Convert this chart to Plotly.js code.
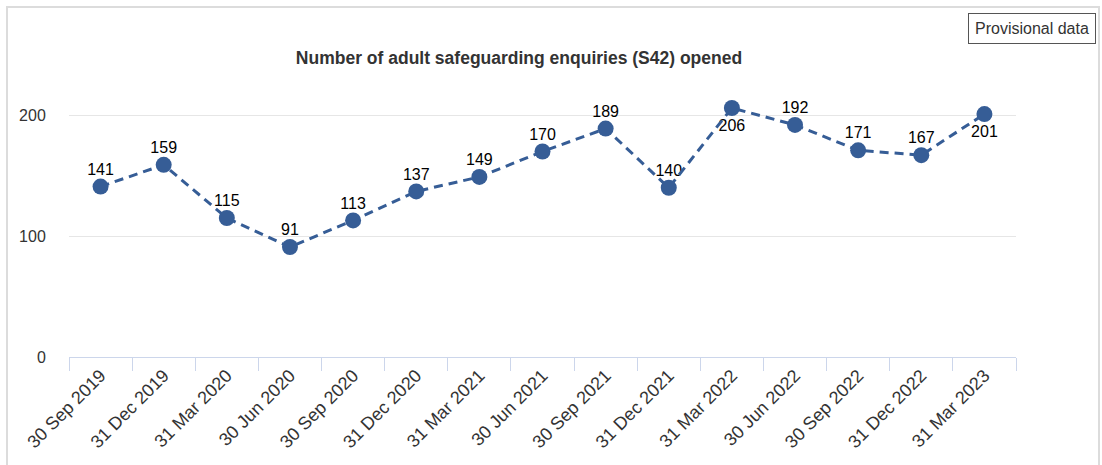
<!DOCTYPE html>
<html><head><meta charset="utf-8">
<script src="https://cdn.plot.ly/plotly-3.0.1.min.js"></script>
<style>
html,body{margin:0;padding:0;background:#fff;}
#chart{width:1102px;height:465px;}
#frame{position:absolute;left:6px;top:6px;width:1094px;height:470px;border:2px solid #dcdcdc;pointer-events:none;box-sizing:border-box;}
</style></head>
<body>
<div id="chart"></div>
<div id="frame"></div>
<script>
const categories = ["30 Sep 2019","31 Dec 2019","31 Mar 2020","30 Jun 2020","30 Sep 2020","31 Dec 2020","31 Mar 2021","30 Jun 2021","30 Sep 2021","31 Dec 2021","31 Mar 2022","30 Jun 2022","30 Sep 2022","31 Dec 2022","31 Mar 2023"];
const enquiries = [141,159,115,91,113,137,149,170,189,140,206,192,171,167,201];
const labelPositions = ["top center","top center","top center","top center","top center","top center","top center","top center","top center","top center","bottom center","top center","top center","top center","bottom center"];
const yTicks = [0,100,200];

const labelTrace = {
  x: categories, y: enquiries, type: 'scatter', mode: 'markers+text',
  text: enquiries.map(String), textposition: labelPositions,
  textfont: {family: 'Liberation Sans, Arial, sans-serif', size: 16, color: '#000'},
  marker: {color: '#ffffff', opacity: 0, line: {width: 0}, size: labelPositions.map(p => p.startsWith('top') ? 11 : 16)},
  cliponaxis: false, hoverinfo: 'skip'
};
const lineTrace = {
  x: categories, y: enquiries, type: 'scatter', mode: 'lines+markers',
  line: {color: '#365d96', width: 3, dash: '9px,6px'},
  marker: {color: '#365d96', size: 16, line: {width: 0}},
  cliponaxis: false, hoverinfo: 'x+y'
};
const layout = {
  width: 1102, height: 465,
  margin: {l: 69, r: 86, t: 79, b: 108},
  paper_bgcolor: '#fff', plot_bgcolor: '#fff',
  font: {family: 'Liberation Sans, Arial, sans-serif', color: '#333'},
  showlegend: false,
  title: {text: '<b>Number of adult safeguarding enquiries (S42) opened</b>', font: {size: 17.5, color: '#333'},
          x: 519/1102, xref: 'container', xanchor: 'center', y: 1 - 58/465, yref: 'container', yanchor: 'middle'},
  xaxis: {type: 'category', tickangle: -45, tickson: 'boundaries', ticks: 'outside', ticklen: 13, tickcolor: '#ccd6eb',
          showline: true, linecolor: '#ccd6eb', linewidth: 1, showgrid: false, zeroline: false,
          tickfont: {size: 18, color: '#333'}, range: [-0.5, categories.length - 0.5]},
  yaxis: {range: [0, 230], tickvals: yTicks, ticktext: yTicks.map(String), showgrid: true, gridcolor: '#e6e6e6',
          zeroline: false, ticks: 'outside', ticklen: 19, tickcolor: 'rgba(0,0,0,0)', showline: false,
          tickfont: {size: 16, color: '#333'}},
  annotations: [{text: 'Provisional data', xref: 'paper', yref: 'paper', x: (1032-69)/947, y: (357-28)/278,
    xanchor: 'center', yanchor: 'middle', showarrow: false, font: {size: 16, color: '#333'},
    bordercolor: '#555', borderwidth: 1, borderpad: 6, bgcolor: '#fff'}]
};
Plotly.newPlot('chart', [labelTrace, lineTrace], layout, {displayModeBar: false, staticPlot: true});
</script>
</body></html>
